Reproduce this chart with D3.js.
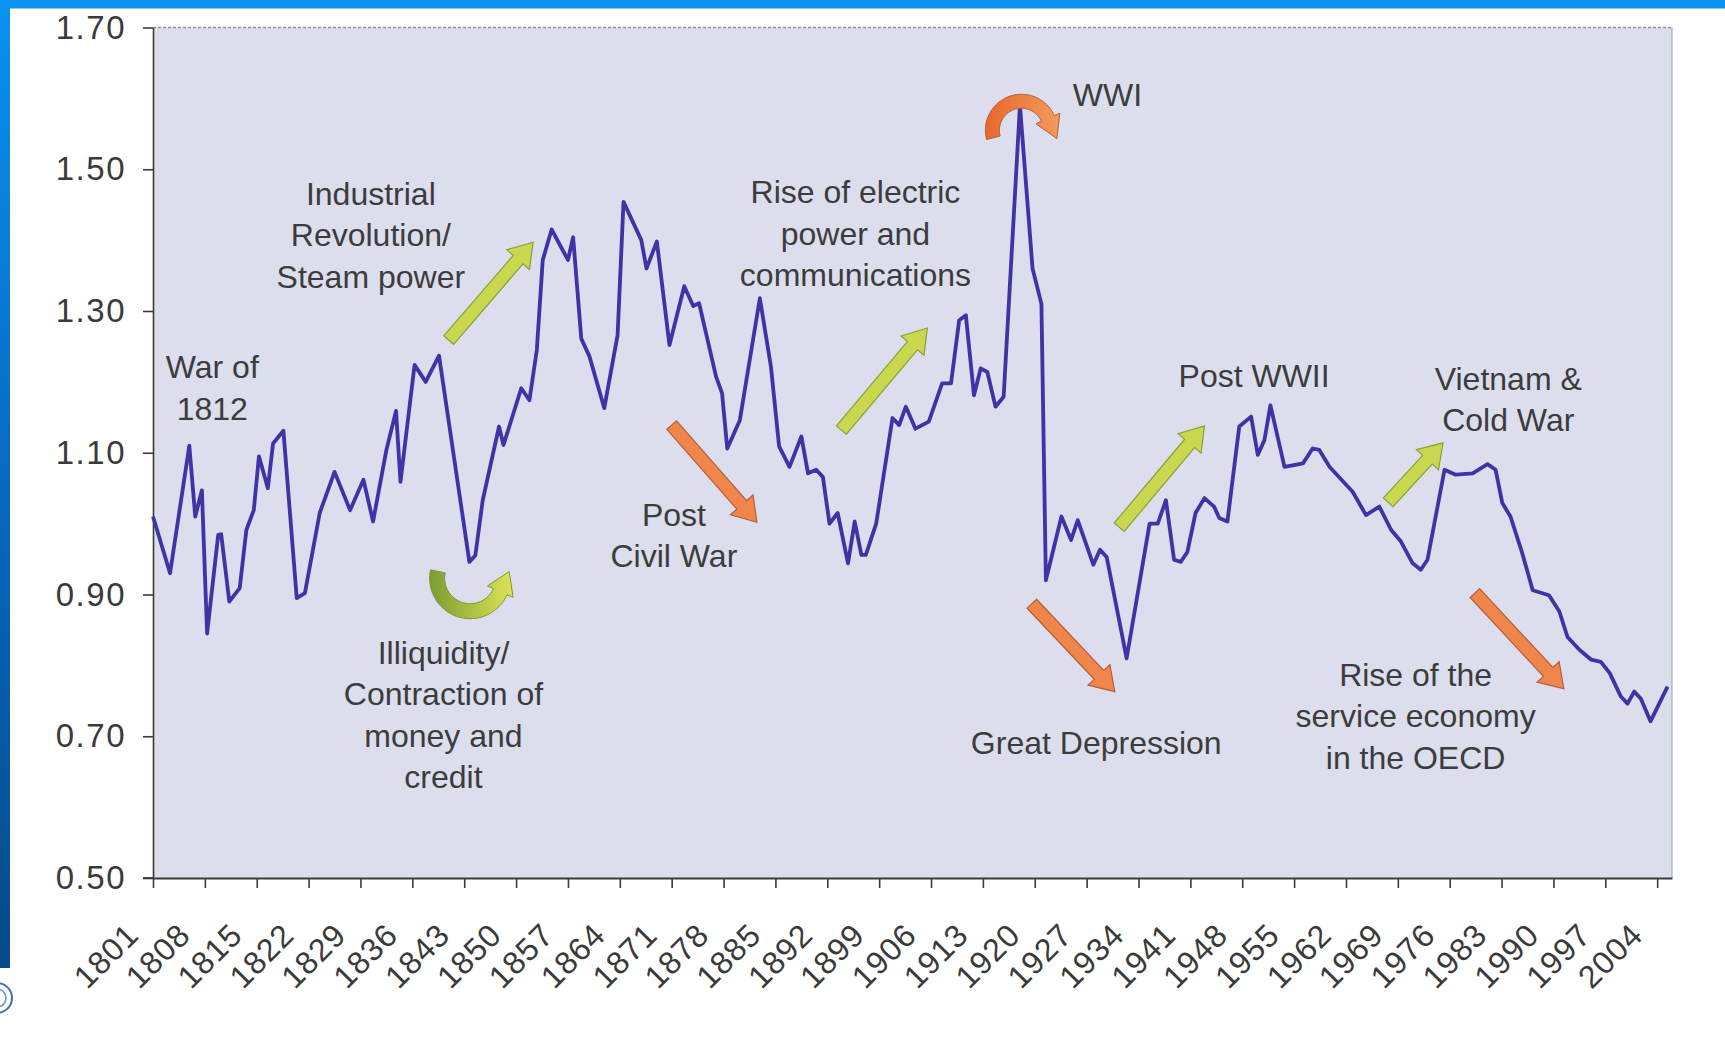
<!DOCTYPE html>
<html><head><meta charset="utf-8">
<script src="https://cdn.jsdelivr.net/npm/d3@7"></script>
<style>
html,body{margin:0;padding:0;background:#fff;}
svg{display:block;}
text{font-family:"Liberation Sans",Arial,Helvetica,sans-serif;}
</style></head><body>
<svg id="chart" width="1725" height="1042"></svg>
<script>
// ---- data ----
const years = [1801.0,1803.3,1805.9,1806.7,1807.6,1808.3,1809.8,1810.2,1811.3,1812.7,1813.6,1814.6,1815.3,1816.5,1817.2,1818.6,1820.4,1821.5,1823.5,1825.5,1827.6,1829.4,1830.7,1832.5,1833.8,1834.4,1836.3,1837.8,1839.6,
1843.7,1844.5,1845.5,1847.7,1848.3,1850.7,1851.8,1852.8,1853.6,1854.8,1857.0,1857.7,1858.8,1859.9,1861.9,1863.7,1864.5,1866.9,1867.6,1869.0,1870.7,1872.7,1873.9,1874.7,1877.0,1877.8,1878.5,
1880.2,1882.9,1884.4,1885.5,1886.9,1888.5,1889.4,1890.5,1891.4,1892.3,1893.4,1894.8,1895.7,1896.6,1897.2,1898.6,1900.8,1901.7,1902.6,1903.9,1905.7,1907.5,1908.7,1909.8,1910.7,1911.8,1912.7,1913.6,1914.7,1915.8,
1918.0,1919.7,1920.9,1921.5,1923.6,1924.9,1925.8,1927.9,1928.8,1929.7,1932.4,1935.5,1936.6,1937.7,1938.8,1939.7,1940.6,1941.7,1942.9,1944.2,1944.9,1946.0,1947.6,1949.2,1950.1,1951.0,1951.8,1953.7,1956.2,1957.5,1958.4,
1959.8,1962.9,1964.7,1966.5,1968.1,1969.4,1971.0,1972.1,1973.0,1975.3,1976.8,1979.1,1981.1,1982.2,1983.1,1984.2,1985.8,1987.2,1989.4,1990.8,1991.9,1993.5,1995.1,1996.4,1997.6,1999.1,2000.0,2000.9,2001.8,2003.1,2005.4];
const values = [1.010,0.930,1.110,1.010,1.047,0.845,0.984,0.985,0.890,0.909,0.991,1.019,1.095,1.050,1.113,1.131,0.895,0.902,1.015,1.073,1.019,1.062,1.003,1.104,1.159,1.059,1.224,1.200,1.237,
0.946,0.955,1.033,1.137,1.111,1.191,1.174,1.245,1.372,1.415,1.372,1.404,1.261,1.236,1.163,1.266,1.454,1.400,1.360,1.398,1.252,1.335,1.307,1.311,1.207,1.184,1.106,
1.146,1.318,1.221,1.109,1.080,1.123,1.071,1.076,1.066,1.000,1.015,0.944,1.003,0.956,0.956,1.000,1.149,1.139,1.165,1.134,1.144,1.198,1.198,1.287,1.294,1.181,1.219,1.214,1.165,1.179,
1.590,1.360,1.310,0.920,1.010,0.977,1.005,0.942,0.963,0.953,0.810,1.000,1.000,1.033,0.949,0.946,0.960,1.015,1.036,1.024,1.008,1.003,1.137,1.151,1.097,1.118,1.167,1.080,1.085,1.106,1.104,
1.080,1.045,1.012,1.024,0.991,0.975,0.944,0.935,0.949,1.076,1.069,1.071,1.084,1.076,1.029,1.010,0.958,0.906,0.899,0.876,0.840,0.822,0.808,0.805,0.789,0.756,0.746,0.763,0.753,0.721,0.770];

const yTickValues = [0.50,0.70,0.90,1.10,1.30,1.50,1.70];
const xTickYears = [1801,1808,1815,1822,1829,1836,1843,1850,1857,1864,1871,1878,1885,1892,1899,1906,1913,1920,1927,1934,1941,1948,1955,1962,1969,1976,1983,1990,1997,2004];

// annotation texts (anchored in data units: year, value of first baseline)
const noteLines = [["War of","1812"],["Industrial","Revolution/","Steam power"],["Rise of electric","power and","communications"],["WWI"],["Post WWII"],["Vietnam &","Cold War"],["Post","Civil War"],["Illiquidity/","Contraction of","money and","credit"],["Great Depression"],["Rise of the","service economy","in the OECD"]];
const noteYears = [1809.0,1830.4,1895.8,1929.8,1949.6,1983.9,1871.3,1840.2,1928.3,1971.4];
const noteValues = [1.205,1.450,1.452,1.589,1.193,1.189,0.997,0.802,0.675,0.771];

// straight arrows (tail -> tip, data units)
const arrowKind = ["up","up","down","down","up","up","down"];
const arrowTailYear = [1840.9,1893.9,1871.0,1919.6,1931.4,1967.7,1979.4];
const arrowTailValue = [1.259,1.132,1.139,0.887,0.995,1.030,0.902];
const arrowTipYear = [1852.3,1905.5,1882.5,1930.8,1942.9,1975.1,1991.4];
const arrowTipValue = [1.397,1.276,1.002,0.763,1.138,1.114,0.767];

// curved arrows (centre in data units)
const curveKind = ["wwi","illiquidity"];
const curveYear = [1918.2,1843.8];
const curveValue = [1.555,0.923];

// ---- drawing ----
const svg = d3.select("#chart");
const pLeft = 153, pRight = 1672, pTop = 27.5, pBottom = 878;
const x = d3.scaleLinear().domain([1801, 2006]).range([pLeft, pRight]);
const y = d3.scaleLinear().domain([0.5, 1.7]).range([pBottom, pTop]);

const defs = svg.append("defs");
const gL = defs.append("linearGradient").attr("id","strip").attr("x1",0).attr("y1",0).attr("x2",0).attr("y2",1);
gL.append("stop").attr("offset","0%").attr("stop-color","#0a92f0");
gL.append("stop").attr("offset","55%").attr("stop-color","#0666bb");
gL.append("stop").attr("offset","100%").attr("stop-color","#054a88");
const gO = defs.append("linearGradient").attr("id","orangeArc").attr("x1",0).attr("y1",0).attr("x2",1).attr("y2",0);
gO.append("stop").attr("offset","0%").attr("stop-color","#e8672c");
gO.append("stop").attr("offset","100%").attr("stop-color","#f49a5c");
const gG = defs.append("linearGradient").attr("id","greenArc").attr("x1",0).attr("y1",0).attr("x2",1).attr("y2",0);
gG.append("stop").attr("offset","0%").attr("stop-color","#7b9c33");
gG.append("stop").attr("offset","100%").attr("stop-color","#dce455");

// frame
svg.append("rect").attr("x",0).attr("y",0).attr("width",1725).attr("height",8.5).attr("fill","#0a90ee");
svg.append("rect").attr("x",0).attr("y",0).attr("width",10).attr("height",968).attr("fill","url(#strip)");
svg.append("circle").attr("cx",-3).attr("cy",998).attr("r",15).attr("fill","none").attr("stroke","#3f6fb0").attr("stroke-width",2);
svg.append("circle").attr("cx",-3).attr("cy",998).attr("r",9).attr("fill","none").attr("stroke","#6a92c8").attr("stroke-width",1.5);

// plot background
svg.append("rect").attr("x",pLeft).attr("y",pTop).attr("width",pRight-pLeft).attr("height",pBottom-pTop).attr("fill","#dcdded");
svg.append("line").attr("x1",pLeft).attr("x2",pRight).attr("y1",pTop).attr("y2",pTop).attr("stroke","#8e8e9c").attr("stroke-width",1.6).attr("stroke-dasharray","3,2");
svg.append("line").attr("x1",pRight).attr("x2",pRight).attr("y1",pTop).attr("y2",pBottom).attr("stroke","#a8a8b4").attr("stroke-width",1.2);

// axes
const yAxis = svg.append("g").attr("transform",`translate(${pLeft},0)`)
  .call(d3.axisLeft(y).tickValues(yTickValues).tickFormat(d3.format(".2f")).tickSize(10).tickSizeOuter(0).tickPadding(17));
yAxis.select(".domain").attr("stroke","#3a3a3a").attr("stroke-width",1.6);
yAxis.selectAll(".tick line").attr("stroke","#3a3a3a").attr("stroke-width",1.6);
yAxis.selectAll(".tick text").attr("font-size",33).attr("fill","#3a3a3a").attr("letter-spacing","1.5px")
  .attr("font-family","'Liberation Sans',Arial,sans-serif");

const xAxis = svg.append("g").attr("transform",`translate(0,${pBottom})`)
  .call(d3.axisBottom(x).tickValues(xTickYears).tickFormat(d=>String(d)).tickSize(10).tickSizeOuter(0));
xAxis.select(".domain").attr("stroke","#3a3a3a").attr("stroke-width",1.8);
xAxis.selectAll(".tick line").attr("stroke","#3a3a3a").attr("stroke-width",1.6);
xAxis.selectAll(".tick text").attr("font-size",32).attr("fill","#3a3a3a").attr("letter-spacing","1px")
  .attr("font-family","'Liberation Sans',Arial,sans-serif")
  .attr("x",0).attr("y",0).attr("dy",0).attr("text-anchor","end")
  .attr("transform","translate(-13,59) rotate(-45)");
svg.append("line").attr("x1",143).attr("x2",pLeft).attr("y1",pBottom).attr("y2",pBottom).attr("stroke","#3a3a3a").attr("stroke-width",1.8);

// series line
const pts = years.map((yr,i)=>({year:yr, value:values[i]}));
svg.append("path").datum(pts)
  .attr("fill","none").attr("stroke","#3f33a6").attr("stroke-width",3.8).attr("stroke-linejoin","round")
  .attr("d", d3.line().x(d=>x(d.year)).y(d=>y(d.value)));

// straight arrows
const shaftHalf = 6.5, headHalf = 15, headLen = 23;
arrowKind.forEach((k,i)=>{
  const x0 = x(arrowTailYear[i]), y0 = y(arrowTailValue[i]);
  const x1 = x(arrowTipYear[i]), y1 = y(arrowTipValue[i]);
  const L = Math.hypot(x1-x0, y1-y0), ang = Math.atan2(y1-y0, x1-x0)*180/Math.PI;
  const poly = [[0,-shaftHalf],[L-headLen,-shaftHalf],[L-headLen,-headHalf],[L,0],[L-headLen,headHalf],[L-headLen,shaftHalf],[0,shaftHalf]];
  svg.append("polygon").attr("points", poly.map(p=>p.join(",")).join(" "))
    .attr("transform",`translate(${x0},${y0}) rotate(${ang})`)
    .attr("fill", k==="up" ? "#c9d84f" : "#f1864c")
    .attr("stroke", k==="up" ? "#8d9f3a" : "#b65d36").attr("stroke-width",1.2);
});

// curved arrows
function bandPath(cx, cy, r, w, a0, a1, hl, hh){
  const n = 40, pts = [];
  const rad = a => a*Math.PI/180;
  const P = (rr, a) => [cx + rr*Math.cos(rad(a)), cy - rr*Math.sin(rad(a))];
  for(let i=0;i<=n;i++){ const a = a0 + (a1-a0)*i/n; pts.push(P(r+w/2, a)); }
  const th = rad(a1), sgn = a1 > a0 ? 1 : -1;
  const t = sgn > 0 ? [-Math.sin(th), -Math.cos(th)] : [Math.sin(th), Math.cos(th)];
  const nn = [Math.cos(th), -Math.sin(th)];
  const B = P(r, a1);
  pts.push([B[0]+nn[0]*hh, B[1]+nn[1]*hh]);
  pts.push([B[0]+t[0]*hl, B[1]+t[1]*hl]);
  pts.push([B[0]-nn[0]*hh, B[1]-nn[1]*hh]);
  for(let i=n;i>=0;i--){ const a = a0 + (a1-a0)*i/n; pts.push(P(r-w/2, a)); }
  return "M" + pts.map(p=>p[0].toFixed(1)+","+p[1].toFixed(1)).join("L") + "Z";
}
curveKind.forEach((k,i)=>{
  const cx = x(curveYear[i]), cy = y(curveValue[i]);
  if(k==="wwi"){
    svg.append("path").attr("d", bandPath(cx, cy, 29, 14, 195, 24, 22, 13))
      .attr("fill","url(#orangeArc)").attr("stroke","#b65d36").attr("stroke-width",1);
  } else {
    svg.append("path").attr("d", bandPath(cx, cy, 33, 15, 168, 336, 22, 14))
      .attr("fill","url(#greenArc)").attr("stroke","#7f9634").attr("stroke-width",1);
  }
});

// annotation texts
const lineH = 41.5;
noteLines.forEach((lines,i)=>{
  const t = svg.append("text").attr("x", x(noteYears[i])).attr("y", y(noteValues[i]))
    .attr("text-anchor","middle").attr("font-size",32).attr("fill","#3c3c3c");
  lines.forEach((s,j)=>{
    t.append("tspan").attr("x", x(noteYears[i])).attr("dy", j===0 ? 0 : lineH).text(s);
  });
});
</script>
</body></html>
